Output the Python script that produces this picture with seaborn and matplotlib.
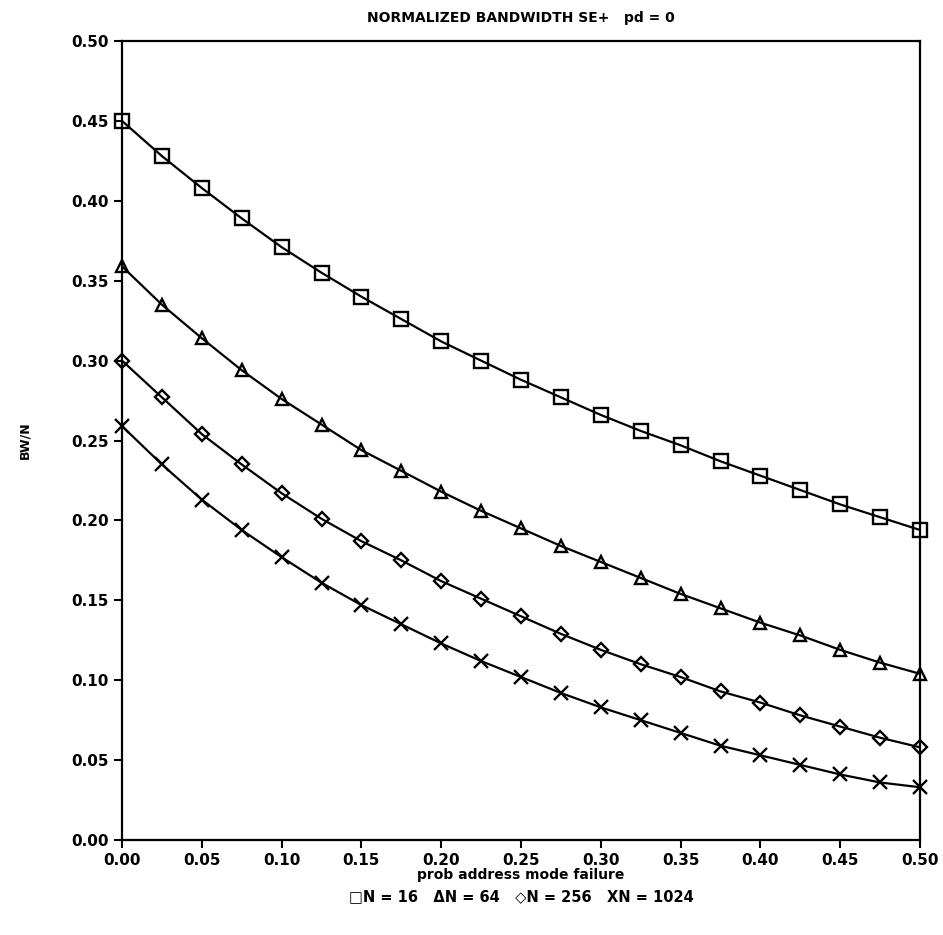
import numpy as np
import pandas as pd
import matplotlib
matplotlib.use("Agg")
import matplotlib.pyplot as plt
import seaborn as sns

# Valores (21 pontos, passo de 0.025)
prob_fail = [0.000, 0.025, 0.050, 0.075, 0.100, 0.125, 0.150, 0.175, 0.200, 0.225,
             0.250, 0.275, 0.300, 0.325, 0.350, 0.375, 0.400, 0.425, 0.450, 0.475, 0.500]

bw_n16 = [0.450, 0.428, 0.408, 0.389, 0.371, 0.355, 0.340, 0.326, 0.312, 0.300,
          0.288, 0.277, 0.266, 0.256, 0.247, 0.237, 0.228, 0.219, 0.210, 0.202, 0.194]
bw_n64 = [0.359, 0.335, 0.314, 0.294, 0.276, 0.260, 0.244, 0.231, 0.218, 0.206,
          0.195, 0.184, 0.174, 0.164, 0.154, 0.145, 0.136, 0.128, 0.119, 0.111, 0.104]
bw_n256 = [0.300, 0.277, 0.254, 0.235, 0.217, 0.201, 0.187, 0.175, 0.162, 0.151,
           0.140, 0.129, 0.119, 0.110, 0.102, 0.093, 0.086, 0.078, 0.071, 0.064, 0.058]
bw_n1024 = [0.259, 0.235, 0.213, 0.194, 0.177, 0.161, 0.147, 0.135, 0.123, 0.112,
            0.102, 0.092, 0.083, 0.075, 0.067, 0.059, 0.053, 0.047, 0.041, 0.036, 0.033]

tick_vals = [0.00, 0.05, 0.10, 0.15, 0.20, 0.25, 0.30, 0.35, 0.40, 0.45, 0.50]
tick_labels = ["0.00", "0.05", "0.10", "0.15", "0.20", "0.25", "0.30", "0.35", "0.40", "0.45", "0.50"]

series = [
    ("N = 16", bw_n16, "s", 9.5),
    ("N = 64", bw_n64, "^", 9),
    ("N = 256", bw_n256, "D", 7),
    ("N = 1024", bw_n1024, "x", 10),
]

sns.set_style("white")
plt.rcParams['font.family'] = ['DejaVu Sans']
plt.rcParams['text.color'] = 'black'
plt.rcParams['xtick.color'] = 'black'
plt.rcParams['ytick.color'] = 'black'

fig = plt.figure(figsize=(9.43, 9.35), dpi=100)
ax = fig.add_axes([122 / 943, 1 - 840 / 935, (920 - 122) / 943, (840 - 41) / 935])

for name, vals, mk, ms in series:
    df = pd.DataFrame({"x": prob_fail, "y": vals})
    sns.lineplot(data=df, x="x", y="y", ax=ax, color="black", linewidth=1.6,
                 marker=mk, markersize=ms, markerfacecolor="none",
                 markeredgecolor="black", markeredgewidth=1.7, clip_on=False)

ax.set_xlim(0, 0.5)
ax.set_ylim(0, 0.5)
ax.set_xticks(tick_vals)
ax.set_xticklabels(tick_labels)
ax.set_yticks(tick_vals)
ax.set_yticklabels(tick_labels)
ax.tick_params(axis="both", direction="out", length=6, width=1.5, labelsize=11,
               colors="black", bottom=True, left=True, top=False, right=False)
for lbl in ax.get_xticklabels() + ax.get_yticklabels():
    lbl.set_fontweight("bold")
for sp in ax.spines.values():
    sp.set_linewidth(1.6)
    sp.set_color("black")

ax.set_xlabel("")
ax.set_ylabel("")
fig.text(521 / 943, 1 - 875 / 935, "prob address mode failure", ha="center", va="center",
         fontsize=10, fontweight="bold")
fig.text(521 / 943, 1 - 897 / 935, "\u25a1N = 16   \u0394N = 64   \u25c7N = 256   XN = 1024",
         ha="center", va="center", fontsize=10.5, fontweight="bold")
fig.text(25 / 943, 1 - 440 / 935, "BW/N", rotation=90, ha="center", va="center",
         fontsize=9, fontweight="bold")
fig.text(521 / 943, 1 - 18 / 935, "NORMALIZED BANDWIDTH SE+   pd = 0", ha="center",
         va="center", fontsize=10, fontweight="bold")

plt.savefig("out.png", dpi=100)
